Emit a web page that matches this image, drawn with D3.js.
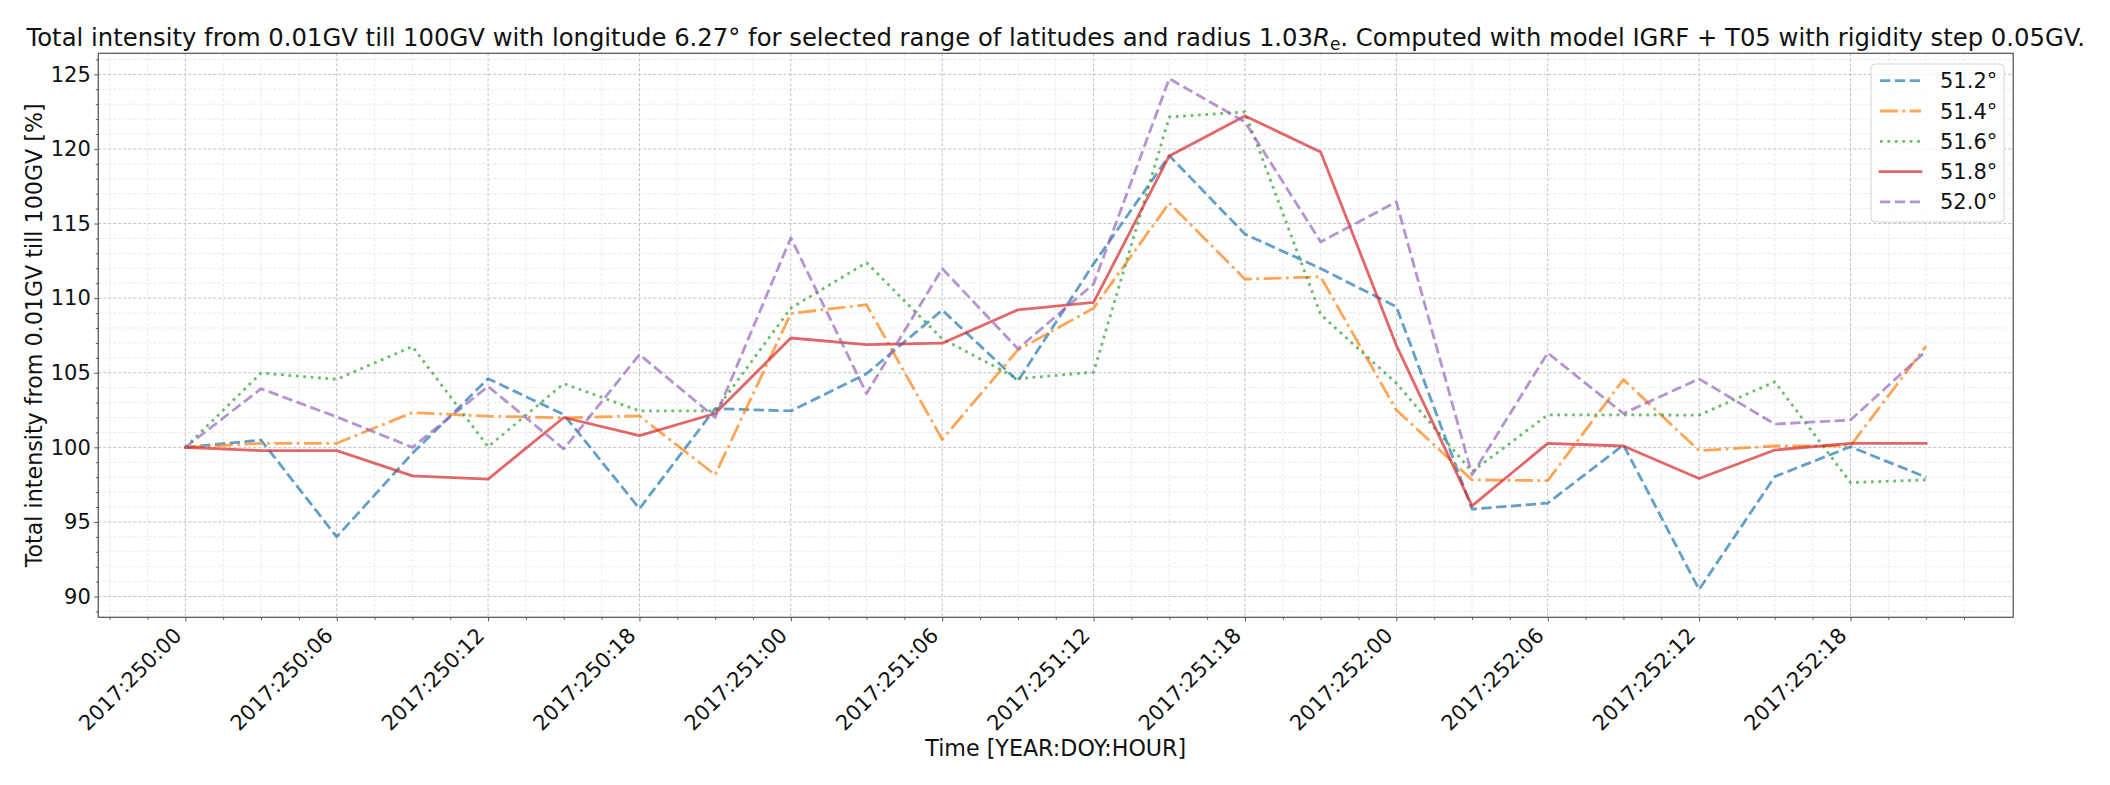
<!DOCTYPE html>
<html>
<head>
<meta charset="utf-8">
<script src="https://cdn.jsdelivr.net/npm/d3@7"></script>
<style>
  html, body { margin: 0; padding: 0; background: #fff; }
  svg { display: block; font-family: "DejaVu Sans", sans-serif; }
</style>
</head>
<body>
<svg id="chart" width="2110" height="785"></svg>
<script>
// ---------- DATA ----------
const hours = [0,3,6,9,12,15,18,21,24,27,30,33,36,39,42,45,48,51,54,57,60,63,66,69];
const latLabels = ["51.2°", "51.4°", "51.6°", "51.8°", "52.0°"];
const lat512 = [100,100.49,94.0,99.6,104.6,102.2,95.89,102.6,102.44,104.93,109.2,104.44,112.3,119.55,114.29,111.99,109.42,95.86,96.26,100.16,90.47,98.04,100.04,98.0];
const lat514 = [100,100.27,100.27,102.33,102.09,101.98,102.11,98.16,108.98,109.56,100.53,106.53,109.33,116.38,111.27,111.43,102.5,97.82,97.77,104.54,99.78,100.09,100.11,106.79];
const lat516 = [100,104.98,104.56,106.76,100.04,104.27,102.44,102.44,109.33,112.38,107.27,104.6,105.04,122.14,122.48,108.9,104.3,98.37,102.18,102.18,102.16,104.39,97.64,97.82];
const lat518 = [100,99.78,99.78,98.09,97.87,102.0,100.78,102.27,107.33,106.89,106.98,109.22,109.71,119.53,122.21,119.8,106.84,96.08,100.27,100.09,97.91,99.82,100.27,100.27];
const lat520 = [100,103.93,102.04,100.0,104.09,99.89,106.22,102.0,114.04,103.6,111.98,106.6,110.95,124.71,121.81,113.77,116.45,98.15,106.33,102.27,104.59,101.56,101.83,106.46];
const xTickHours = [0,6,12,18,24,30,36,42,48,54,60,66];
const xTickLabels = ["2017:250:00","2017:250:06","2017:250:12","2017:250:18","2017:251:00","2017:251:06","2017:251:12","2017:251:18","2017:252:00","2017:252:06","2017:252:12","2017:252:18"];
const yTicks = [90,95,100,105,110,115,120,125];

// ---------- STYLE / LAYOUT ----------
const seriesVals = [lat512, lat514, lat516, lat518, lat520];
const colors = ["#1f77b4", "#ff7f0e", "#2ca02c", "#d62728", "#9467bd"];
const lw = 2.8;
const dashes = [
  [3.7*lw, 1.6*lw].join(","),
  [6.4*lw, 1.6*lw, 1*lw, 1.6*lw].join(","),
  [1*lw, 1.65*lw].join(","),
  null,
  [3.7*lw, 1.6*lw].join(",")
];
const caps = ["butt","butt","butt","square","butt"];

const L = 98.3, R = 2013.2, T = 53.3, B = 617.3;
const x = d3.scaleLinear().domain([-3.45, 72.45]).range([L, R]);
const y = d3.scaleLinear().domain([88.61, 126.41]).range([B, T]);

const svg = d3.select("#chart");
const fs = 21;
const fsLab = 22.2;

// grid - minor
const xMinor = d3.range(-3, 73, 1.5).filter(h => h >= -3.45 && h <= 72.45 && (h % 6 !== 0));
const yMinor = d3.range(89, 127, 1).filter(v => v % 5 !== 0);
const grid = svg.append("g");
grid.selectAll(".xmin").data(xMinor).join("line")
  .attr("x1", d => x(d)).attr("x2", d => x(d)).attr("y1", T).attr("y2", B)
  .attr("stroke", "#e6e6e6").attr("stroke-width", 0.9).attr("stroke-dasharray", "3,2");
grid.selectAll(".ymin").data(yMinor).join("line")
  .attr("x1", L).attr("x2", R).attr("y1", d => y(d)).attr("y2", d => y(d))
  .attr("stroke", "#e6e6e6").attr("stroke-width", 0.9).attr("stroke-dasharray", "3,2");
grid.selectAll(".xmaj").data(xTickHours).join("line")
  .attr("x1", d => x(d)).attr("x2", d => x(d)).attr("y1", T).attr("y2", B)
  .attr("stroke", "#c0c0c0").attr("stroke-width", 1).attr("stroke-dasharray", "3,2");
grid.selectAll(".ymaj").data(yTicks).join("line")
  .attr("x1", L).attr("x2", R).attr("y1", d => y(d)).attr("y2", d => y(d))
  .attr("stroke", "#c0c0c0").attr("stroke-width", 1).attr("stroke-dasharray", "3,2");

// lines
const line = d3.line().x((d, i) => x(hours[i])).y(d => y(d));
seriesVals.forEach((vals, k) => {
  const p = svg.append("path").datum(vals)
    .attr("d", line)
    .attr("fill", "none")
    .attr("stroke", colors[k])
    .attr("stroke-opacity", 0.7)
    .attr("stroke-width", lw)
    .attr("stroke-linejoin", "round")
    .attr("stroke-linecap", caps[k]);
  if (dashes[k]) p.attr("stroke-dasharray", dashes[k]);
});

// axes
const xAxis = d3.axisBottom(x).tickValues(xTickHours).tickSize(4).tickFormat((d, i) => xTickLabels[i]);
const gx = svg.append("g").attr("transform", `translate(0,${B})`).call(xAxis);
gx.select(".domain").remove();
gx.selectAll(".tick line").attr("stroke", "#555");
gx.selectAll(".tick text")
  .attr("font-size", fs).attr("font-family", "DejaVu Sans").attr("fill", "#111")
  .attr("text-anchor", "end").attr("dy", null).attr("y", null)
  .attr("transform", "translate(-3,19.5) rotate(-45)");
const xMinorAxis = d3.axisBottom(x).tickValues(xMinor).tickSize(2.5).tickFormat("");
const gxm = svg.append("g").attr("transform", `translate(0,${B})`).call(xMinorAxis);
gxm.select(".domain").remove();
gxm.selectAll(".tick line").attr("stroke", "#555");

const yAxis = d3.axisLeft(y).tickValues(yTicks).tickSize(4).tickPadding(3.5).tickFormat(d3.format("d"));
const gy = svg.append("g").attr("transform", `translate(${L},0)`).call(yAxis);
gy.select(".domain").remove();
gy.selectAll(".tick line").attr("stroke", "#555");
gy.selectAll(".tick text").attr("font-size", fs).attr("font-family", "DejaVu Sans").attr("fill", "#111");
const yMinorAxis = d3.axisLeft(y).tickValues(yMinor).tickSize(2.5).tickFormat("");
const gym = svg.append("g").attr("transform", `translate(${L},0)`).call(yMinorAxis);
gym.select(".domain").remove();
gym.selectAll(".tick line").attr("stroke", "#555");

// spines
svg.append("rect").attr("x", L).attr("y", T).attr("width", R - L).attr("height", B - T)
  .attr("fill", "none").attr("stroke", "#555").attr("stroke-width", 1.25);

// axis labels
svg.append("text").attr("x", (L + R) / 2).attr("y", 756)
  .attr("text-anchor", "middle").attr("font-size", fsLab).attr("fill", "#111")
  .text("Time [YEAR:DOY:HOUR]");
svg.append("text").attr("transform", `translate(42,${(T + B) / 2}) rotate(-90)`)
  .attr("text-anchor", "middle").attr("font-size", fsLab).attr("fill", "#111")
  .text("Total intensity from 0.01GV till 100GV [%]");

// title
const title = svg.append("text").attr("x", (L + R) / 2).attr("y", 46)
  .attr("text-anchor", "middle").attr("font-size", 24.3).attr("fill", "#111");
title.append("tspan").text("Total intensity from 0.01GV till 100GV with longitude 6.27° for selected range of latitudes and radius 1.03");
title.append("tspan").attr("font-style", "italic").text("R");
title.append("tspan").attr("font-size", 17).attr("dy", 4).text("e");
title.append("tspan").attr("dy", -4).text(". Computed with model IGRF + T05 with rigidity step 0.05GV.");

// legend
const lg = svg.append("g");
lg.append("rect").attr("x", 1871).attr("y", 64).attr("width", 133).attr("height", 158)
  .attr("rx", 4).attr("fill", "#fff").attr("fill-opacity", 0.8)
  .attr("stroke", "#d4d4d4").attr("stroke-width", 1);
latLabels.forEach((lab, k) => {
  const cy = 80.7 + 30.3 * k;
  const l = lg.append("line").attr("x1", 1880).attr("x2", 1921).attr("y1", cy).attr("y2", cy)
    .attr("stroke", colors[k]).attr("stroke-opacity", 0.7).attr("stroke-width", lw)
    .attr("stroke-linecap", caps[k]);
  if (dashes[k]) l.attr("stroke-dasharray", dashes[k]);
  lg.append("text").attr("x", 1940).attr("y", cy + 7.5).attr("font-size", fs).attr("fill", "#111").text(lab);
});
</script>
</body>
</html>
